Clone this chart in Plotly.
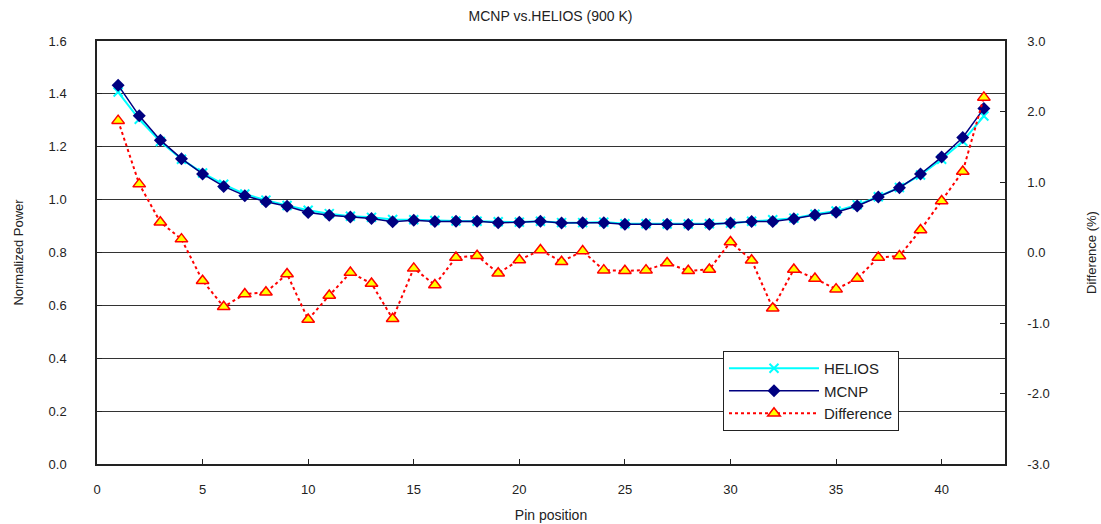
import plotly.graph_objects as go

pins = list(range(1, 43))

mcnp = [1.433, 1.317, 1.225, 1.155, 1.097, 1.050, 1.015, 0.992, 0.975, 0.951,
        0.941, 0.934, 0.929, 0.916, 0.922, 0.917, 0.918, 0.918, 0.913, 0.914,
        0.918, 0.912, 0.913, 0.913, 0.907, 0.907, 0.907, 0.906, 0.907, 0.912,
        0.917, 0.917, 0.928, 0.942, 0.952, 0.976, 1.010, 1.045, 1.097, 1.161,
        1.235, 1.345]

helios = [1.407, 1.304, 1.220, 1.153, 1.101, 1.058, 1.021, 0.998, 0.978, 0.960,
          0.947, 0.937, 0.933, 0.925, 0.924, 0.921, 0.919, 0.918, 0.916, 0.915,
          0.918, 0.913, 0.913, 0.915, 0.909, 0.909, 0.908, 0.908, 0.909, 0.911,
          0.918, 0.924, 0.930, 0.945, 0.957, 0.980, 1.011, 1.046, 1.093, 1.153,
          1.221, 1.316]

diff = [1.87, 0.97, 0.43, 0.19, -0.40, -0.77, -0.59, -0.565, -0.305, -0.95,
        -0.61, -0.285, -0.44, -0.94, -0.225, -0.46, -0.07, -0.045, -0.295, -0.106,
        0.035, -0.13, 0.02, -0.25, -0.26, -0.25, -0.15, -0.26, -0.24, 0.15,
        -0.11, -0.79, -0.24, -0.37, -0.52, -0.37, -0.07, -0.05, 0.32, 0.73,
        1.15, 2.20]

left_ticks = [0.0, 0.2, 0.4, 0.6, 0.8, 1.0, 1.2, 1.4, 1.6]
right_ticks = [-3.0, -2.0, -1.0, 0.0, 1.0, 2.0, 3.0]
x_ticks = [0, 5, 10, 15, 20, 25, 30, 35, 40]

FONT = "Liberation Sans"

fig = go.Figure()
fig.add_trace(go.Scatter(
    x=pins, y=helios, name="HELIOS", mode="lines+markers",
    line=dict(color="#00FFFF", width=2),
    marker=dict(symbol="x-thin", size=9, line=dict(color="#00FFFF", width=2)),
))
fig.add_trace(go.Scatter(
    x=pins, y=mcnp, name="MCNP", mode="lines+markers",
    line=dict(color="#000080", width=1.5),
    marker=dict(symbol="diamond", size=10, color="#000080"),
))
fig.add_trace(go.Scatter(
    x=pins, y=diff, name="Difference", mode="lines+markers", yaxis="y2",
    line=dict(color="#FF0000", width=2, dash="dot"),
    marker=dict(symbol="triangle-up", size=11, color="#FFFF00",
                line=dict(color="#FF0000", width=1.5)),
))

fig.update_layout(
    width=1101, height=524,
    margin=dict(l=97, r=96, t=41, b=60, autoexpand=False),
    paper_bgcolor="white", plot_bgcolor="white",
    font=dict(family=FONT, size=13, color="#222"),
    title=dict(text="MCNP vs.HELIOS (900 K)", x=0.5, xanchor="center",
               y=1 - 16 / 524, yanchor="middle", font=dict(size=14)),
    xaxis=dict(range=[0, 43], tickvals=x_ticks, ticks="inside", ticklen=5,
               tickcolor="#222", showline=True, linecolor="#222", linewidth=1.5,
               mirror=True, showgrid=False, zeroline=False, automargin=False,
               ticklabelstandoff=13,
               title=dict(text="Pin position", standoff=14, font=dict(size=14))),
    yaxis=dict(range=[0, 1.6], tickvals=left_ticks,
               ticktext=[f"{v:.1f}" for v in left_ticks],
               ticks="inside", ticklen=5, tickcolor="#222",
               showline=True, linecolor="#222", linewidth=1.5,
               showgrid=True, gridcolor="#333", gridwidth=1, zeroline=False,
               ticklabelstandoff=26, automargin=False,
               title=dict(text="Normalized Power", standoff=22, font=dict(size=13))),
    yaxis2=dict(range=[-3, 3], overlaying="y", side="right",
                tickvals=right_ticks,
                ticktext=[f"{v:.1f}" for v in right_ticks],
                ticks="inside", ticklen=5, tickcolor="#222",
                showline=True, linecolor="#222", linewidth=1.5,
                showgrid=False, zeroline=False, ticklabelstandoff=18,
                automargin=False,
                title=dict(text="Difference (%)", standoff=38, font=dict(size=13))),
    legend=dict(x=(723 - 97) / 908, y=(464 - 351) / 423, xanchor="left",
                yanchor="top", bgcolor="white", bordercolor="#222",
                borderwidth=1, font=dict(size=15), itemwidth=90,
                tracegroupgap=2),
    showlegend=True,
)

fig.write_html("out.html")
